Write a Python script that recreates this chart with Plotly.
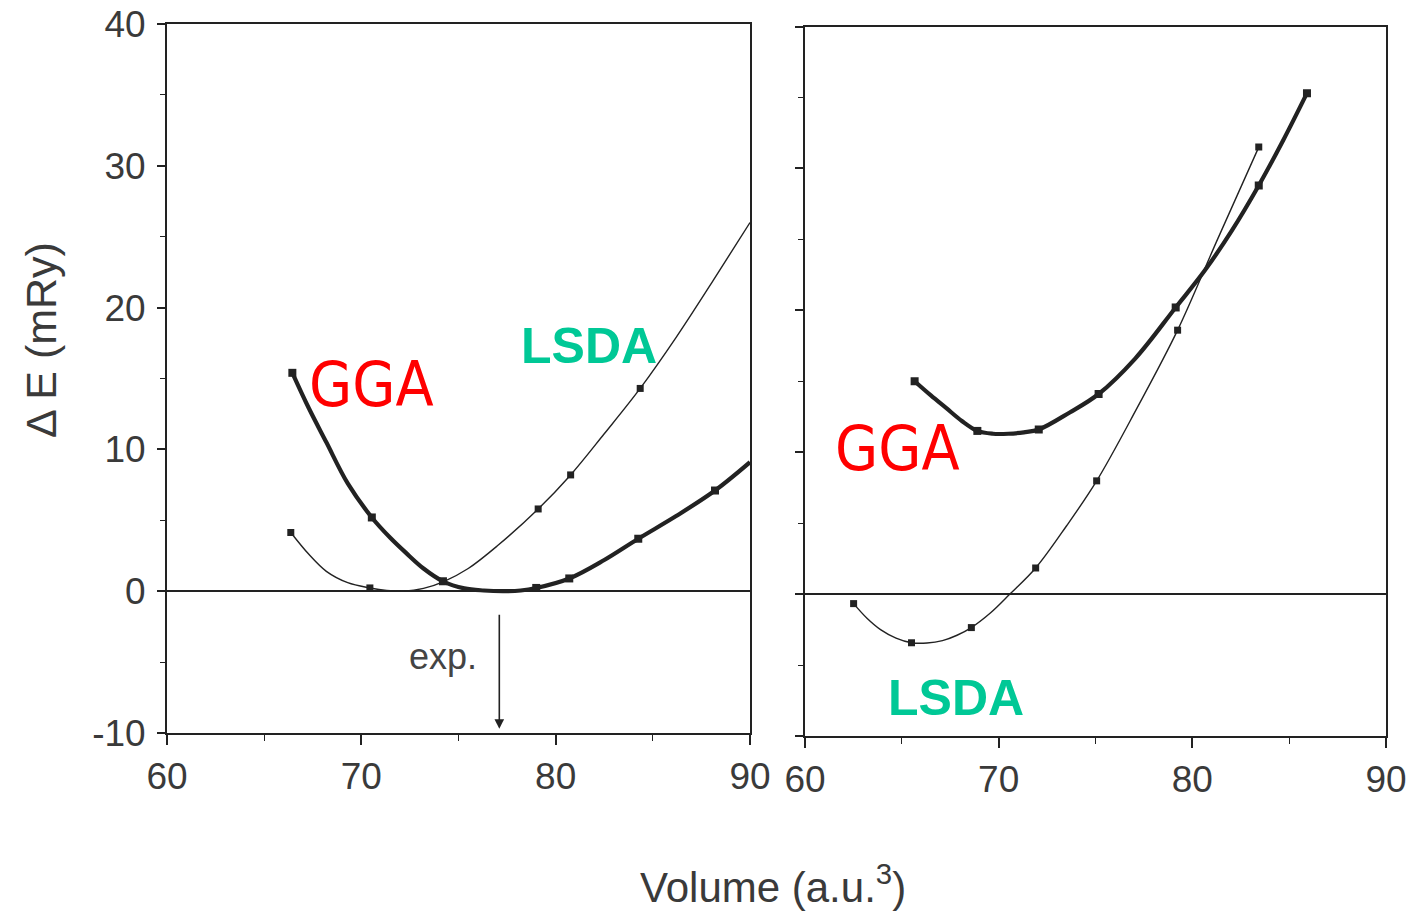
import plotly.graph_objects as go

# ---------------- data ----------------
# Left panel
left_gga_x = [66.45, 67.3, 68.2, 69.3, 70.54, 71.5, 72.3, 73.2, 74.2, 75.3, 76.3, 77.3, 78.2, 79.0, 80.7, 82.5, 84.25, 86.2, 88.2, 90.0]
left_gga_y = [15.4, 12.9, 10.5, 7.6, 5.2, 3.75, 2.7, 1.6, 0.7, 0.2, 0.05, 0.0, 0.05, 0.23, 0.9, 2.2, 3.7, 5.3, 7.1, 9.1]
left_gga_mx = [66.45, 70.54, 74.2, 79.0, 80.7, 84.25, 88.2]
left_gga_my = [15.4, 5.2, 0.7, 0.23, 0.9, 3.7, 7.1]

left_lsda_x = [66.37, 67.3, 68.2, 69.3, 70.44, 71.3, 72.2, 73.2, 74.27, 75.5, 77.0, 79.1, 80.77, 82.5, 84.35, 86.2, 88.1, 90.0]
left_lsda_y = [4.14, 2.6, 1.4, 0.6, 0.23, 0.05, 0.0, 0.2, 0.7, 1.6, 3.2, 5.8, 8.2, 11.1, 14.3, 17.9, 21.9, 26.0]
left_lsda_mx = [66.37, 70.44, 79.1, 80.77, 84.35]
left_lsda_my = [4.14, 0.23, 5.8, 8.2, 14.3]

# Right panel
right_gga_x = [65.66, 66.5, 67.3, 68.1, 68.9, 69.7, 70.5, 71.3, 72.07, 73.67, 75.16, 77.05, 79.14, 80.64, 82.03, 83.43, 84.7, 85.92]
right_gga_y = [15.0, 14.0, 13.1, 12.2, 11.5, 11.3, 11.3, 11.4, 11.6, 12.8, 14.1, 16.6, 20.2, 22.8, 25.6, 28.8, 32.0, 35.3]
right_gga_mx = [65.66, 68.9, 72.07, 75.16, 79.14, 83.43, 85.92]
right_gga_my = [15.0, 11.5, 11.6, 14.1, 20.2, 28.8, 35.3]

right_lsda_x = [62.51, 63.2, 63.9, 64.7, 65.5, 66.3, 67.1, 67.85, 68.59, 69.6, 70.58, 71.91, 73.5, 75.06, 77.1, 79.24, 81.3, 83.43]
right_lsda_y = [-0.67, -1.7, -2.5, -3.1, -3.43, -3.45, -3.28, -2.9, -2.36, -1.3, 0.0, 1.84, 4.8, 7.98, 13.0, 18.6, 25.0, 31.5]
right_lsda_mx = [62.51, 65.5, 68.59, 71.91, 75.06, 79.24, 83.43]
right_lsda_my = [-0.67, -3.43, -2.36, 1.84, 7.98, 18.6, 31.5]

exp_volume = 77.1
x_ticks = [60, 70, 80, 90]
x_ticktext = ["60", "70", "80", "90"]
y_ticks = [-10, 0, 10, 20, 30, 40]
y_ticktext = ["-10", "0", "10", "20", "30", "40"]

# ---------------- figure ----------------
W, H = 1410, 917
INK = "#222222"
TXT = "#3a3a3a"
GRN = "#00C896"
RED = "#FF0000"

fig = go.Figure()

def curve(x, y, width, xa, ya):
    fig.add_trace(go.Scatter(x=x, y=y, mode="lines", xaxis=xa, yaxis=ya,
                             line=dict(color=INK, width=width, shape="spline", smoothing=1.0),
                             showlegend=False, hoverinfo="skip"))

def marks(x, y, xa, ya, size=7):
    fig.add_trace(go.Scatter(x=x, y=y, mode="markers", xaxis=xa, yaxis=ya,
                             marker=dict(symbol="square", size=size, color=INK),
                             showlegend=False, hoverinfo="skip"))

curve(left_lsda_x, left_lsda_y, 1.4, "x", "y")
marks(left_lsda_mx, left_lsda_my, "x", "y")
curve(left_gga_x, left_gga_y, 4.2, "x", "y")
marks(left_gga_mx, left_gga_my, "x", "y", 8)

curve(right_lsda_x, right_lsda_y, 1.4, "x2", "y2")
marks(right_lsda_mx, right_lsda_my, "x2", "y2")
curve(right_gga_x, right_gga_y, 4.2, "x2", "y2")
marks(right_gga_mx, right_gga_my, "x2", "y2", 8)

tickfont = dict(family="Liberation Sans, Arial, sans-serif", size=37, color=TXT)

xcommon = dict(range=[60, 90], tickvals=x_ticks, ticktext=x_ticktext, ticks="outside", ticklen=10, tickwidth=1.6,
               tickcolor=INK, showline=True, linecolor=INK, linewidth=1.8, mirror=True,
               showgrid=False, zeroline=False, tickfont=tickfont, automargin=False,
               minor=dict(tickvals=[65, 75, 85], ticks="outside", ticklen=6, tickwidth=1.4, tickcolor=INK))
ycommon = dict(range=[-10, 40], tickvals=y_ticks, ticktext=y_ticktext, ticks="outside", ticklen=8, tickwidth=1.6,
               tickcolor=INK, showline=True, linecolor=INK, linewidth=1.8, mirror=True,
               showgrid=False, zeroline=True, zerolinecolor=INK, zerolinewidth=1.6,
               tickfont=tickfont, automargin=False,
               minor=dict(tickvals=[-5, 5, 15, 25, 35], ticks="outside", ticklen=5, tickwidth=1.4, tickcolor=INK))

fig.update_layout(
    width=W, height=H,
    margin=dict(l=0, r=0, t=0, b=0),
    paper_bgcolor="white", plot_bgcolor="white",
    xaxis=dict(domain=[167 / W, 750 / W], anchor="y", **xcommon),
    yaxis=dict(domain=[1 - 733 / H, 1 - 24 / H], anchor="x", ticklabelstandoff=4, **ycommon),
    xaxis2=dict(domain=[805 / W, 1386 / W], anchor="y2", **xcommon),
    yaxis2=dict(domain=[1 - 736 / H, 1 - 26.5 / H], anchor="x2", showticklabels=False, **ycommon),
)

anns = [
    # experimental arrow
    dict(x=exp_volume, y=-9.7, ax=exp_volume, ay=-1.55, xref="x", yref="y", axref="x", ayref="y",
         text="", showarrow=True, arrowhead=2, arrowsize=1.2, arrowwidth=1.6, arrowcolor=INK),
    dict(x=74.2, y=-4.6, xref="x", yref="y", text="exp.", showarrow=False,
         xanchor="center", yanchor="middle",
         font=dict(family="Liberation Sans, Arial, sans-serif", size=36, color="#444444")),
    # labels
    dict(x=70.5, y=14.6, xref="x", yref="y", text="GGA", showarrow=False,
         xanchor="center", yanchor="middle",
         font=dict(family="Liberation Sans Narrow, DejaVu Sans Condensed, sans-serif", size=62, color=RED)),
    dict(x=81.7, y=17.3, xref="x", yref="y", text="<b>LSDA</b>", showarrow=False,
         xanchor="center", yanchor="middle",
         font=dict(family="Liberation Sans, Arial, sans-serif", size=50, color=GRN)),
    dict(x=64.8, y=10.25, xref="x2", yref="y2", text="GGA", showarrow=False,
         xanchor="center", yanchor="middle",
         font=dict(family="Liberation Sans Narrow, DejaVu Sans Condensed, sans-serif", size=62, color=RED)),
    dict(x=67.8, y=-7.3, xref="x2", yref="y2", text="<b>LSDA</b>", showarrow=False,
         xanchor="center", yanchor="middle",
         font=dict(family="Liberation Sans, Arial, sans-serif", size=50, color=GRN)),
    # axis titles
    dict(x=773 / W, y=1 - 884 / H, xref="paper", yref="paper", text="Volume (a.u.<sup>3</sup>)",
         xanchor="center", yanchor="middle", showarrow=False,
         font=dict(family="Liberation Sans, Arial, sans-serif", size=42, color=TXT)),
    dict(x=41 / W, y=1 - 340 / H, xref="paper", yref="paper", text="Δ E (mRy)", textangle=-90,
         xanchor="center", yanchor="middle", showarrow=False,
         font=dict(family="Liberation Sans, Arial, sans-serif", size=43, color=TXT)),
]
fig.update_layout(annotations=anns)

fig.write_html("out.html", config={"displayModeBar": False},
               post_script="document.body.style.margin='0';document.body.style.overflow='hidden';")
